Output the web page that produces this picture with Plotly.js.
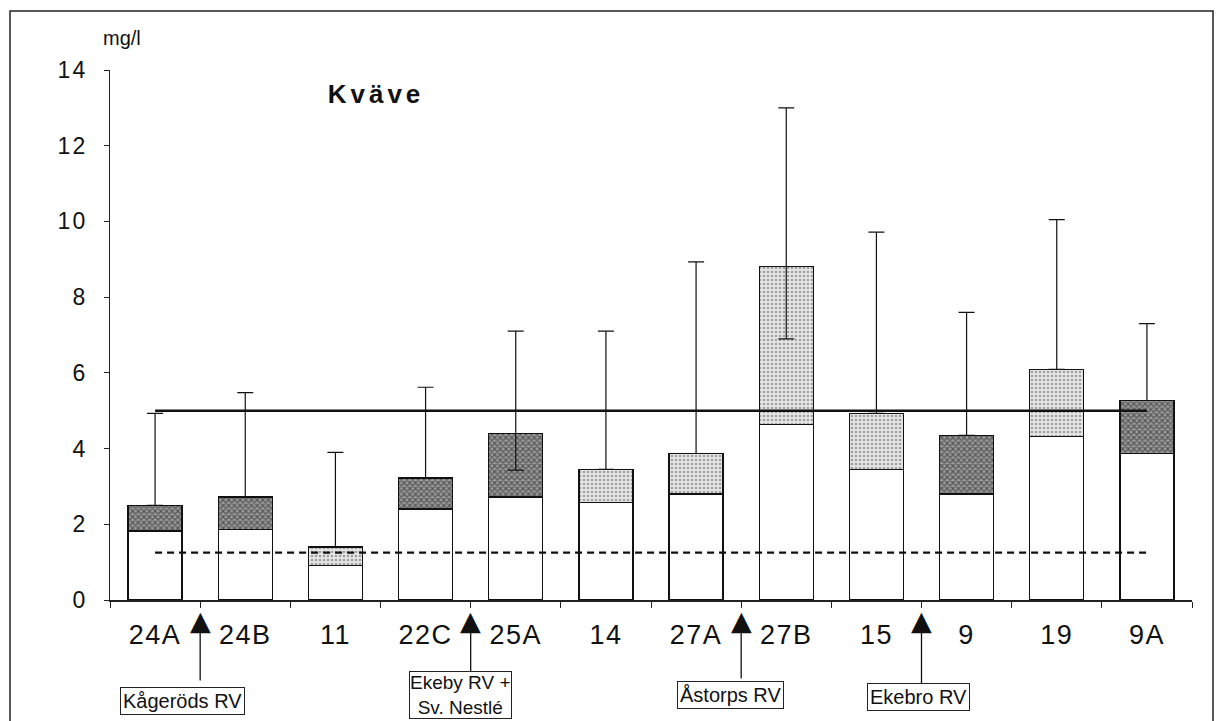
<!DOCTYPE html>
<html>
<head>
<meta charset="utf-8">
<script src="https://cdn.plot.ly/plotly-3.0.1.min.js"></script>
<style>
  body { margin: 0; background: #fff; }
  #chart { width: 1225px; height: 721px; }
  .xtick text { letter-spacing: 1.5px; }
  .ytick text { letter-spacing: 2px; }
  .gtitle { letter-spacing: 4px; }
</style>
</head>
<body>
<div id="chart"></div>
<script>
// ---- data ----
const stations = ['24A', '24B', '11', '22C', '25A', '14', '27A', '27B', '15', '9', '19', '9A'];
const whiteTop = [1.82, 1.87, 0.92, 2.40, 2.72, 2.58, 2.80, 4.64, 3.45, 2.80, 4.32, 3.87];
const barTop   = [2.50, 2.72, 1.40, 3.22, 4.40, 3.45, 3.87, 8.81, 4.93, 4.35, 6.09, 5.27];
const segKind  = ['dark', 'dark', 'light', 'dark', 'dark', 'light', 'light', 'light', 'light', 'dark', 'light', 'dark'];
const errLow   = [2.50, 2.72, 1.40, 3.22, 3.43, 3.45, 3.87, 6.90, 4.93, 4.35, 6.09, 5.27];
const errHigh  = [4.93, 5.48, 3.90, 5.62, 7.10, 7.10, 8.93, 13.0, 9.72, 7.60, 10.05, 7.30];
const limitSolid = 5.0;
const limitDashed = 1.25;
const outletLabels = ['Kågeröds RV', 'Ekeby RV +<br>Sv. Nestlé', 'Åstorps RV', 'Ekebro RV'];
const outletAfter  = ['24A', '22C', '27A', '15'];   // outlet lies just after this station

// ---- derived ----
const darkPart  = stations.map((s, i) => segKind[i] === 'dark'  ? +(barTop[i] - whiteTop[i]).toFixed(3) : 0);
const lightPart = stations.map((s, i) => segKind[i] === 'light' ? +(barTop[i] - whiteTop[i]).toFixed(3) : 0);
const errMinus  = errHigh.map((h, i) => +(h - errLow[i]).toFixed(3));

const FONT = 'Liberation Sans, Arial, Helvetica, sans-serif';

const traces = [
  {
    type: 'bar', x: stations, y: whiteTop, name: 'base',
    marker: { color: '#ffffff', line: { color: '#111', width: 1.3 } },
    hoverinfo: 'skip'
  },
  {
    type: 'bar', x: stations, y: darkPart, name: 'dark',
    marker: {
      color: '#8a8a8a', line: { color: '#111', width: 1.3 },
      pattern: { shape: 'x', fgcolor: '#111', bgcolor: '#9a9a9a', size: 4, solidity: 0.5, fillmode: 'overlay' }
    },
    hoverinfo: 'skip'
  },
  {
    type: 'bar', x: stations, y: lightPart, name: 'light',
    marker: {
      color: '#efefef', line: { color: '#111', width: 1.3 },
      pattern: { shape: '.', fgcolor: '#5a5a5a', bgcolor: '#e6e6e6', size: 4, solidity: 0.35, fillmode: 'overlay' }
    },
    hoverinfo: 'skip'
  },
  {
    type: 'scatter', mode: 'lines', x: [stations[0], stations[stations.length - 1]],
    y: [limitSolid, limitSolid], line: { color: '#111', width: 2.6 }, hoverinfo: 'skip'
  },
  {
    type: 'scatter', mode: 'lines', x: [stations[0], stations[stations.length - 1]],
    y: [limitDashed, limitDashed], line: { color: '#111', width: 2.2, dash: '7px,5px' }, hoverinfo: 'skip'
  },
  {
    type: 'scatter', mode: 'markers', x: stations, y: errHigh,
    marker: { size: 1, opacity: 0 },
    error_y: { type: 'data', symmetric: false, array: errHigh.map(() => 0), arrayminus: errMinus,
               color: '#111', thickness: 1.2, width: 8 },
    hoverinfo: 'skip'
  }
];

// annotations
const pxToPaperX = px => (px - 110) / 1082;
const pxToPaperY = py => (600 - py) / 530;
const boxCenters = [[182, 701], [460, 695], [730, 695], [918, 697]];
const arrowTails = [682, 673, 680, 685];
const headBase = 627;

const annotations = [
  {
    text: 'mg/l', xref: 'paper', yref: 'paper', x: pxToPaperX(101), y: pxToPaperY(38),
    xanchor: 'left', yanchor: 'middle', showarrow: false,
    font: { family: FONT, size: 20, color: '#111' }
  }
];
outletAfter.forEach((st, k) => {
  const idx = stations.indexOf(st) + 0.5;
  // shaft
  annotations.push({
    text: '', xref: 'x', yref: 'paper', x: idx, y: pxToPaperY(headBase - 3),
    showarrow: true, ax: 0, ay: arrowTails[k] - (headBase - 3), axref: 'pixel', ayref: 'pixel',
    arrowhead: 0, arrowwidth: 1.3, arrowcolor: '#111', standoff: 0
  });
  // solid triangular head
  annotations.push({
    text: '▲', xref: 'x', yref: 'paper', x: idx, y: pxToPaperY(headBase),
    xanchor: 'center', yanchor: 'bottom', yshift: -10, showarrow: false,
    font: { family: 'DejaVu Sans', size: 27, color: '#111' }, borderpad: 0
  });
  // label box
  annotations.push({
    text: outletLabels[k], xref: 'paper', yref: 'paper',
    x: pxToPaperX(boxCenters[k][0]), y: pxToPaperY(boxCenters[k][1]),
    xanchor: 'center', yanchor: 'middle', showarrow: false,
    font: { family: FONT, size: k === 1 ? 19 : 20, color: '#111' },
    bordercolor: '#222', borderwidth: 1, borderpad: k === 1 ? 0 : 2, bgcolor: '#fff'
  });
});

const layout = {
  width: 1225, height: 721,
  margin: { l: 110, r: 33, t: 70, b: 121 },
  paper_bgcolor: '#fff', plot_bgcolor: '#fff',
  showlegend: false,
  barmode: 'stack', bargap: 0.4,
  title: {
    text: 'Kväve', xref: 'container', yref: 'container', x: 376 / 1225, y: 1 - 94 / 721,
    xanchor: 'center', yanchor: 'middle',
    font: { family: FONT, size: 26, weight: 'bold', color: '#111' }
  },
  xaxis: {
    type: 'category', range: [-0.5, 11.5], tickson: 'boundaries',
    ticks: 'outside', ticklen: 6, tickwidth: 1, tickcolor: '#222',
    showline: true, linecolor: '#222', linewidth: 1.5, showgrid: false, zeroline: false,
    tickfont: { family: FONT, size: 27, color: '#111' }, ticklabelstandoff: 10
  },
  yaxis: {
    range: [0, 14], dtick: 2, tick0: 0,
    ticks: 'outside', ticklen: 5, tickwidth: 1, tickcolor: '#222',
    showline: true, linecolor: '#222', linewidth: 1.2, showgrid: false, zeroline: false,
    tickfont: { family: FONT, size: 23, color: '#111' }, ticklabelstandoff: 12
  },
  shapes: [
    { type: 'rect', xref: 'paper', yref: 'paper',
      x0: pxToPaperX(10), x1: pxToPaperX(1213), y0: pxToPaperY(740), y1: pxToPaperY(11),
      line: { color: '#222', width: 1.5 }, fillcolor: 'rgba(0,0,0,0)', layer: 'below' }
  ],
  annotations: annotations
};

Plotly.newPlot('chart', traces, layout, { displayModeBar: false, staticPlot: true });
</script>
</body>
</html>
